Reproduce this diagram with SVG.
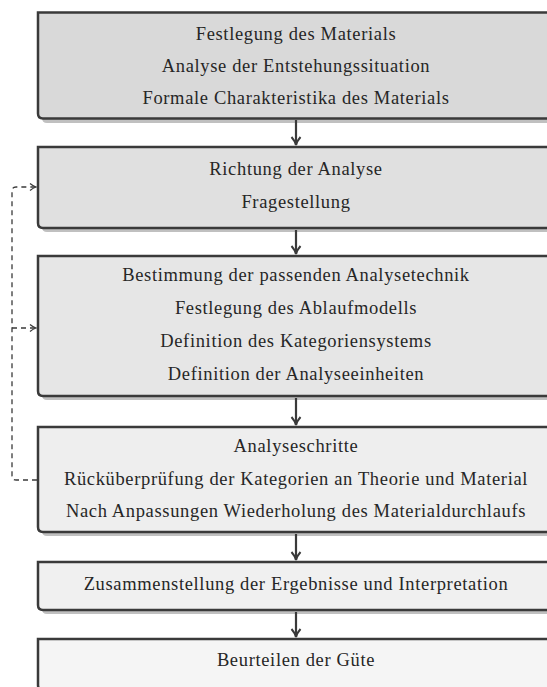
<svg xmlns="http://www.w3.org/2000/svg" width="547" height="687" viewBox="0 0 547 687">
<style>
.box{stroke:#3a3a3a;stroke-width:2.5}
.sh{fill:#c0c0c0}
.t{font-family:"Liberation Serif","Times New Roman",serif;font-size:18.5px;letter-spacing:0.65px;fill:#262626;text-anchor:middle}
.con{stroke:#3a3a3a;stroke-width:2.2;fill:none}
.dash{stroke:#3a3a3a;stroke-width:1.3;fill:none;stroke-dasharray:5 4}
</style>
<defs>
<marker id="ah" markerWidth="12" markerHeight="12" refX="10" refY="6" orient="auto" markerUnits="userSpaceOnUse">
<path d="M2,1.5 Q6,5 10,6 Q6,7 2,10.5" fill="none" stroke="#3a3a3a" stroke-width="2"/>
</marker>
<marker id="ahs" markerWidth="10" markerHeight="10" refX="8" refY="5" orient="auto" markerUnits="userSpaceOnUse">
<path d="M2,1.5 Q5,4 8,5 Q5,6 2,8.5" fill="none" stroke="#3a3a3a" stroke-width="1.3"/>
</marker>
</defs>
<rect width="547" height="687" fill="#ffffff"/>

<g id="n1">
<path class="sh" d="M42,16 H556 V123 H47 Q42,123 42,118 Z"/>
<path class="box" fill="#d9d9d9" d="M38,12.5 H552 V118.5 H43 Q38,118.5 38,113.5 Z"/>
<text class="t" x="296" y="40">Festlegung des Materials</text>
<text class="t" x="296" y="72">Analyse der Entstehungssituation</text>
<text class="t" x="296" y="104">Formale Charakteristika des Materials</text>
</g>

<g id="n2">
<path class="sh" d="M42,151 H556 V232 H47 Q42,232 42,227 Z"/>
<path class="box" fill="#e0e0e0" d="M38,147 H552 V228 H43 Q38,228 38,223 Z"/>
<text class="t" x="296" y="175">Richtung der Analyse</text>
<text class="t" x="296" y="208">Fragestellung</text>
</g>

<g id="n3">
<path class="sh" d="M42,260 H556 V400 H47 Q42,400 42,395 Z"/>
<path class="box" fill="#e6e6e6" d="M38,256 H552 V396 H43 Q38,396 38,391 Z"/>
<text class="t" x="296" y="281">Bestimmung der passenden Analysetechnik</text>
<text class="t" x="296" y="314">Festlegung des Ablaufmodells</text>
<text class="t" x="296" y="347">Definition des Kategoriensystems</text>
<text class="t" x="296" y="380">Definition der Analyseeinheiten</text>
</g>

<g id="n4">
<path class="sh" d="M42,431 H556 V536 H47 Q42,536 42,531 Z"/>
<path class="box" fill="#eeeeee" d="M38,427 H552 V532 H43 Q38,532 38,527 Z"/>
<text class="t" x="296" y="452">Analyseschritte</text>
<text class="t" x="296" y="485">Rücküberprüfung der Kategorien an Theorie und Material</text>
<text class="t" x="296" y="517">Nach Anpassungen Wiederholung des Materialdurchlaufs</text>
</g>

<g id="n5">
<path class="sh" d="M42,566 H556 V614 H47 Q42,614 42,609 Z"/>
<path class="box" fill="#f0f0f0" d="M38,562 H552 V610 H43 Q38,610 38,605 Z"/>
<text class="t" x="296" y="590">Zusammenstellung der Ergebnisse und Interpretation</text>
</g>

<g id="n6">
<path class="sh" d="M42,643 H556 V694 H47 Q42,694 42,689 Z"/>
<path class="box" fill="#f5f5f5" d="M38,639 H552 V690 H43 Q38,690 38,685 Z"/>
<text class="t" x="296" y="666">Beurteilen der Güte</text>
</g>

<g id="connectors">
<line class="con" x1="296" y1="120" x2="296" y2="145" marker-end="url(#ah)"/>
<line class="con" x1="296" y1="230" x2="296" y2="254" marker-end="url(#ah)"/>
<line class="con" x1="296" y1="398" x2="296" y2="425" marker-end="url(#ah)"/>
<line class="con" x1="296" y1="534" x2="296" y2="560" marker-end="url(#ah)"/>
<line class="con" x1="296" y1="612" x2="296" y2="637" marker-end="url(#ah)"/>
<path class="dash" d="M37,480 H16 Q12,480 12,476 V191 Q12,187 16,187 H36" marker-end="url(#ahs)"/>
<path class="dash" d="M12,328 H36" marker-end="url(#ahs)"/>
</g>
</svg>
